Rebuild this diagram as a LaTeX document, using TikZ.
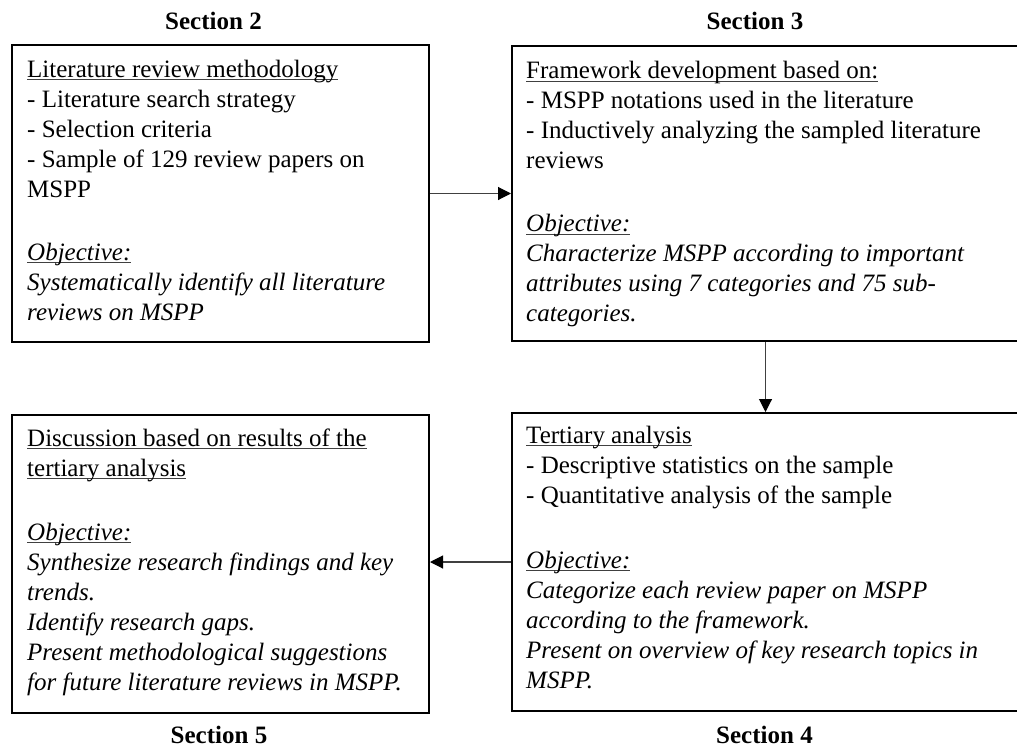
\documentclass[tikz,border=0pt]{standalone}
\usepackage{fontspec}
\setmainfont{Liberation Serif}
\usetikzlibrary{arrows.meta}
% underline that sits just below the baseline (descenders cross it)
\newcommand\hdline[1]{\leavevmode\setbox0\hbox{#1}\rlap{\color{black!75}\rule[-3pt]{\wd0}{1pt}}\box0}
\tikzset{
  stagebox/.style={draw=black, line width=2pt, rectangle, inner sep=0pt, anchor=north west},
  boxtext/.style={inner sep=0pt, anchor=base west, font=\fontsize{25}{30}\selectfont},
  seclabel/.style={inner sep=0pt, anchor=base, font=\fontsize{25}{30}\selectfont\bfseries},
  flow/.style={draw=black!75, line width=1.1pt, -{Triangle[length=13pt,width=13pt,color=black]}}
}
\begin{document}
\begin{tikzpicture}[x=1pt,y=-1pt]
\clip (0,0) rectangle (1017,749);

% stage boxes
\node[stagebox, minimum width=417pt, minimum height=297pt] (b1) at (11,44) {};
\node[stagebox, minimum width=507pt, minimum height=295pt] (b2) at (511,45) {};
\node[stagebox, minimum width=507pt, minimum height=298pt] (b4) at (511,412) {};
\node[stagebox, minimum width=417pt, minimum height=298pt] (b5) at (11,414) {};

% box contents
\node[boxtext] (t1) at ([shift={(16,33.3)}]b1.north west) {\begin{minipage}[t]{400pt}\raggedright
\hdline{Literature review methodology}\\
- Literature search strategy\\
- Selection criteria\\
- Sample of 129 review papers on\\
MSPP\\
~\\[3pt]
\hdline{\itshape Objective:}\\
\itshape Systematically identify all literature\\
reviews on MSPP
\end{minipage}};

\node[boxtext] (t2) at ([shift={(15,34)}]b2.north west) {\begin{minipage}[t]{490pt}\raggedright
\hdline{Framework development based on:}\\
- MSPP notations used in the literature\\
- Inductively analyzing the sampled literature\\
reviews\\
~\\[3pt]
\hdline{\itshape Objective:}\\
\itshape Characterize MSPP according to important\\
attributes using 7 categories and 75 sub-\\
categories.
\end{minipage}};

\node[boxtext] (t4) at ([shift={(15,31.3)}]b4.north west) {\begin{minipage}[t]{490pt}\raggedright
\hdline{Tertiary analysis}\\
- Descriptive statistics on the sample\\
- Quantitative analysis of the sample\\
~\\[5pt]
\hdline{\itshape Objective:}\\
\itshape Categorize each review paper on MSPP\\
according to the framework.\\
Present on overview of key research topics in\\
MSPP.
\end{minipage}};

\node[boxtext] (t5) at ([shift={(16,32)}]b5.north west) {\begin{minipage}[t]{400pt}\raggedright
\hdline{Discussion based on results of the}\\
\hdline{tertiary analysis}\\
~\\[4pt]
\hdline{\itshape Objective:}\\
\itshape Synthesize research findings and key\\
trends.\\
Identify research gaps.\\
Present methodological suggestions\\
for future literature reviews in MSPP.
\end{minipage}};

% section labels
\node[seclabel] (s2) at (213.5,29.3) {Section 2};
\node[seclabel] (s3) at (755,29.3) {Section 3};
\node[seclabel] (s4) at (764.5,743) {Section 4};
\node[seclabel] (s5) at (219,743) {Section 5};

% flow between stages
\draw[flow] (b1.east) -- (b1.east -| b2.west);
\draw[flow] (b2.south) -- (b2.south |- b4.north);
\draw[flow] (b4.west) -- (b4.west -| b5.east);
\end{tikzpicture}
\end{document}
